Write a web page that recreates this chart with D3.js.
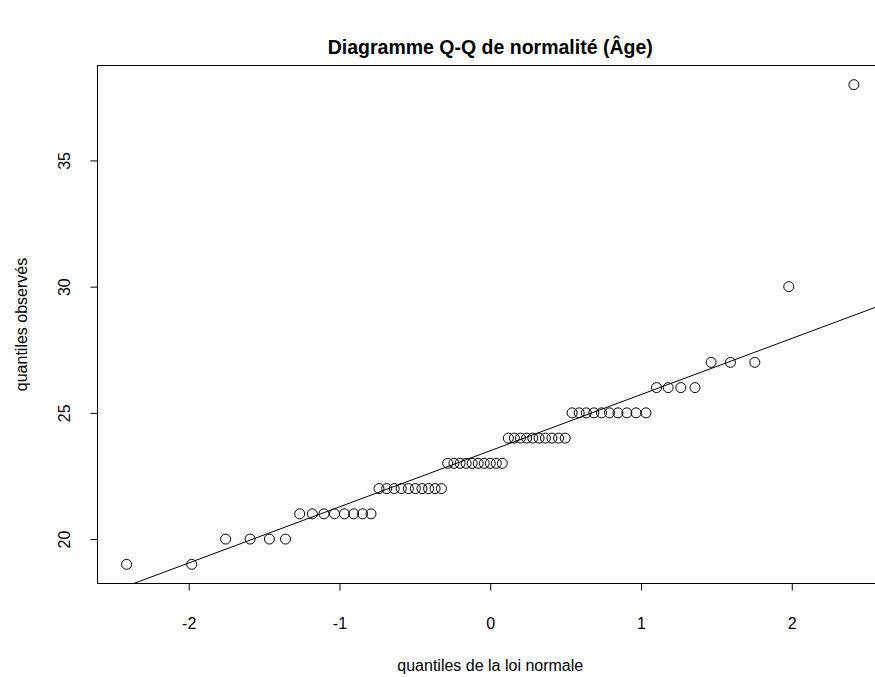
<!DOCTYPE html>
<html><head><meta charset="utf-8">
<script src="https://cdn.jsdelivr.net/npm/d3@7"></script>
<style>body{margin:0;background:#fff;} text{font-family:"Liberation Sans",Arial,sans-serif;}</style>
</head><body>
<svg id="c" width="875" height="677"></svg>
<script>
// observed ages, sorted (n = 63)
const ages = [19,19,20,20,20,20,21,21,21,21,21,21,21,21,
  22,22,22,22,22,22,22,22,22,22,23,23,23,23,23,23,23,23,23,23,
  24,24,24,24,24,24,24,24,24,24,25,25,25,25,25,25,25,25,25,25,
  26,26,26,26,27,27,27,30,38];
// theoretical normal quantiles (ppoints, n = 63)
const lowerHalf = [-2.412,-1.980,-1.755,-1.593,-1.465,-1.358,-1.264,-1.180,-1.103,-1.033,
  -0.967,-0.906,-0.847,-0.791,-0.738,-0.687,-0.637,-0.590,-0.543,-0.497,-0.453,-0.409,
  -0.366,-0.324,-0.282,-0.241,-0.200,-0.160,-0.120,-0.080,-0.040];
const theoQ = lowerHalf.concat([0], lowerHalf.slice().reverse().map(v => -v));
const xTicks = [-2,-1,0,1,2];
const yTicks = [20,25,30,35];
const title = "Diagramme Q-Q de normalité (Âge)";
const xLabel = "quantiles de la loi normale";
const yLabel = "quantiles observés";

const svg = d3.select("#c");
const L = 97.5, R = 883, T = 65.5, B = 583.5;
const x = d3.scaleLinear().domain([-2.605, 2.605]).range([L, R]);
const y = d3.scaleLinear().domain([18.24, 38.76]).range([B, T]);

svg.append("defs").append("clipPath").attr("id","clip")
  .append("rect").attr("x",L).attr("y",T).attr("width",R-L).attr("height",B-T);

svg.append("rect").attr("x",L).attr("y",T).attr("width",R-L).attr("height",B-T)
  .attr("fill","none").attr("stroke","#000").attr("stroke-width",1);

const fmt = d => String(d);
const xa = svg.append("g").attr("transform",`translate(0,${B})`)
  .call(d3.axisBottom(x).tickValues(xTicks).tickSize(7).tickPadding(27).tickFormat(fmt));
const ya = svg.append("g").attr("transform",`translate(${L},0)`)
  .call(d3.axisLeft(y).tickValues(yTicks).tickSize(7).tickFormat(fmt));
[xa, ya].forEach(g => {
  g.select(".domain").remove();
  g.selectAll("line").attr("stroke","#000");
  g.selectAll("text").attr("font-size","16px").attr("fill","#000")
   .style("font-family","Liberation Sans, Arial, sans-serif");
});
ya.selectAll(".tick text")
  .attr("x",null).attr("y",0).attr("dy","0.35em").attr("text-anchor","middle")
  .attr("transform","translate(-33,0) rotate(-90)");

// qq line through quartiles
const q1 = d3.quantile(ages, 0.25), q3 = d3.quantile(ages, 0.75);
const z1 = -0.6745, z3 = 0.6745;
const slope = (q3 - q1) / (z3 - z1), icpt = q1 - slope * z1;
svg.append("line").attr("clip-path","url(#clip)")
  .attr("x1", x(-2.605)).attr("y1", y(icpt + slope * -2.605))
  .attr("x2", x(2.605)).attr("y2", y(icpt + slope * 2.605))
  .attr("stroke","#000").attr("stroke-width",1);

svg.append("g").selectAll("circle").data(ages).join("circle")
  .attr("cx",(d,i)=>x(theoQ[i])).attr("cy",d=>y(d)).attr("r",5)
  .attr("fill","none").attr("stroke","#000").attr("stroke-width",1);

svg.append("text").attr("x",(L+R)/2).attr("y",54).attr("text-anchor","middle")
  .attr("font-size","19.5px").attr("font-weight","bold").text(title);
svg.append("text").attr("x",(L+R)/2).attr("y",671).attr("text-anchor","middle")
  .attr("font-size","16px").text(xLabel);
svg.append("text").attr("transform",`translate(27,${(T+B)/2}) rotate(-90)`)
  .attr("text-anchor","middle").attr("font-size","16px").text(yLabel);
</script>
</body></html>
